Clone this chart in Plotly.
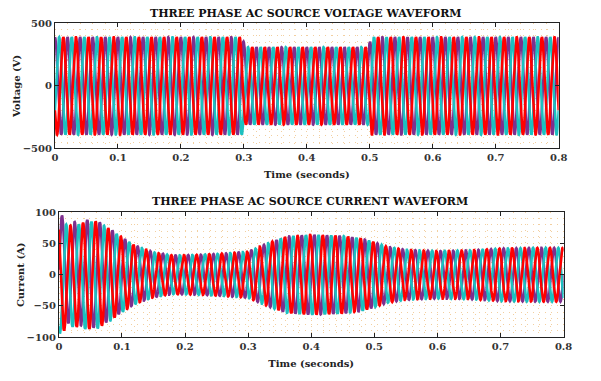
import numpy as np
import plotly.graph_objects as go
from plotly.subplots import make_subplots

# Supply parameters
FREQ_HZ = 50.0
T_END = 0.8
PHASE_NAMES = ["Phase A", "Phase B", "Phase C"]
PHASE_DEG = [0.0, -120.0, 120.0]
PHASE_COLORS = ["#7E2F8E", "#1CC0C0", "#FF0000"]

# Voltage peak envelope (sag between 0.3 s and 0.5 s)
V_ENV_T = [0.0, 0.298, 0.302, 0.497, 0.503, 0.8]
V_ENV_A = [390, 390, 310, 310, 390, 390]
V_PHASE_SHIFT_DEG = 90.0

# Current peak envelope
I_ENV_T = [0.0, 0.005, 0.02, 0.045, 0.06, 0.08, 0.10, 0.12, 0.15, 0.18, 0.22,
           0.26, 0.30, 0.33, 0.36, 0.40, 0.45, 0.48, 0.50, 0.52, 0.55, 0.60,
           0.65, 0.70, 0.75, 0.80]
I_ENV_A = [88, 88, 80, 86, 86, 74, 60, 47, 36, 31, 32, 34, 37, 50, 61, 64,
           62, 58, 52, 45, 40, 38, 39, 42, 43, 43]
# Decaying DC component of the inrush on each phase
I_DC0 = [8, -6, -4]
I_DC_TAU = 0.03

t = np.linspace(0.0, T_END, 12001)
w = 2 * np.pi * FREQ_HZ
v_amp = np.interp(t, V_ENV_T, V_ENV_A)
i_amp = np.interp(t, I_ENV_T, I_ENV_A)

fig = make_subplots(rows=2, cols=1)

for name, ph, col in zip(PHASE_NAMES, PHASE_DEG, PHASE_COLORS):
    v = v_amp * np.sin(w * t + np.deg2rad(ph + V_PHASE_SHIFT_DEG))
    fig.add_trace(go.Scatter(x=t, y=v, mode="lines", name=name,
                             line=dict(color=col, width=2.6),
                             showlegend=False), row=1, col=1)

for name, ph, col, dc in zip(PHASE_NAMES, PHASE_DEG, PHASE_COLORS, I_DC0):
    i = i_amp * np.sin(w * t + np.deg2rad(ph)) + dc * np.exp(-t / I_DC_TAU)
    fig.add_trace(go.Scatter(x=t, y=i, mode="lines", name=name,
                             line=dict(color=col, width=2.6),
                             showlegend=False), row=2, col=1)

W, H = 601, 381
FONT = "DejaVu Serif"
tick_font = dict(family=FONT, size=10, color="#333333", weight="bold")
label_font = dict(family=FONT, size=10, color="#222222", weight="bold")
grid_col = "#F2CFA0"
grid_dash = "1px,5px"

common = dict(showline=True, linecolor="#222222", linewidth=1, mirror="ticks",
              ticks="inside", ticklen=4, tickcolor="#222222",
              tickfont=tick_font, zeroline=False,
              showgrid=True, gridcolor=grid_col, griddash=grid_dash, gridwidth=1)

x_kw = dict(range=[0, T_END], tickvals=[0, 0.1, 0.2, 0.3, 0.4, 0.5, 0.6, 0.7, 0.8],
            ticktext=["0", "0.1", "0.2", "0.3", "0.4", "0.5", "0.6", "0.7", "0.8"],
            minor=dict(dtick=0.02, showgrid=True, gridcolor=grid_col,
                       griddash=grid_dash, gridwidth=1),
            title=dict(text="Time (seconds)", standoff=8, font=label_font),
            **common)

fig.update_xaxes(domain=[53 / W, 567 / W], row=1, col=1, **x_kw)
fig.update_xaxes(domain=[57 / W, 572 / W], row=2, col=1, **x_kw)

fig.update_yaxes(domain=[1 - 147 / H, 1 - 18 / H], range=[-500, 500],
                 tickvals=[-500, 0, 500],
                 minor=dict(dtick=50, showgrid=True, gridcolor=grid_col,
                            griddash=grid_dash, gridwidth=1),
                 title=dict(text="Voltage (V)", standoff=0, font=label_font),
                 row=1, col=1, **common)
fig.update_yaxes(domain=[1 - 342 / H, 1 - 213 / H], range=[-100, 100],
                 tickvals=[-100, -50, 0, 50, 100],
                 minor=dict(dtick=10, showgrid=True, gridcolor=grid_col,
                            griddash=grid_dash, gridwidth=1),
                 title=dict(text="Current (A)", standoff=0, font=label_font),
                 row=2, col=1, **common)

title_font = dict(family=FONT, size=11, color="#111111", weight="bold")
fig.update_layout(
    width=W, height=H,
    margin=dict(l=0, r=0, t=0, b=0),
    paper_bgcolor="white", plot_bgcolor="white",
    annotations=[
        dict(text="THREE PHASE AC SOURCE VOLTAGE WAVEFORM", x=309 / W, y=1 - 8 / H,
             xref="paper", yref="paper", showarrow=False, font=title_font,
             xanchor="center", yanchor="middle"),
        dict(text="THREE PHASE AC SOURCE CURRENT WAVEFORM", x=313 / W, y=1 - 202 / H,
             xref="paper", yref="paper", showarrow=False, font=title_font,
             xanchor="center", yanchor="middle"),
    ],
)

fig.write_html("out.html")
